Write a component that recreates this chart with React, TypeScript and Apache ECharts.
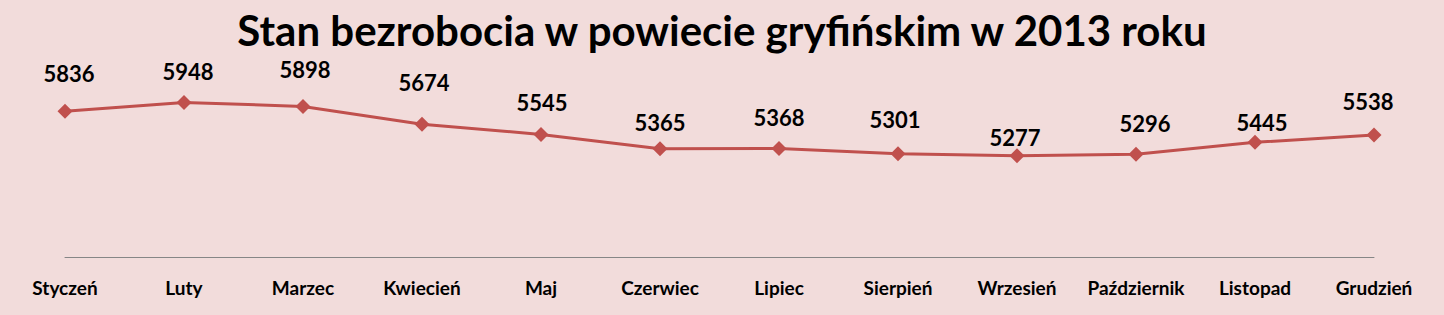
import React, { useEffect, useRef } from "react";
import * as echarts from "echarts";

// Monthly unemployment in the Gryfino district, 2013
const months = [
  "Styczeń",
  "Luty",
  "Marzec",
  "Kwiecień",
  "Maj",
  "Czerwiec",
  "Lipiec",
  "Sierpień",
  "Wrzesień",
  "Październik",
  "Listopad",
  "Grudzień",
];
const unemployed = [5836, 5948, 5898, 5674, 5545, 5365, 5368, 5301, 5277, 5296, 5445, 5538];

// Hand-placed value labels: horizontal shift and height above the marker (px)
const labelDx = [4, 4, 2, 2, 1, 0, 0, -3, -2, 9, 7, -6];
const labelRise = [38, 31, 37, 42, 32, 26, 31, 34, 18, 31, 20, 33];

const FONT = "Lato, 'Open Sans', sans-serif";
const RED = "#c0504d";

export default function App() {
  const ref = useRef<HTMLDivElement>(null);

  useEffect(() => {
    document.body.style.margin = "0";
    if (!ref.current) return;
    const chart = echarts.init(ref.current, null, { renderer: "svg" });

    const seriesData = unemployed.map((v, i) => ({
      value: v,
      label: { offset: [labelDx[i], -labelRise[i]] },
    }));

    chart.setOption({
      animation: false,
      backgroundColor: "#f2dcdb",
      title: {
        text: "Stan bezrobocia w powiecie gryfińskim w 2013 roku",
        left: "center",
        top: 8,
        padding: 0,
        textStyle: {
          fontFamily: FONT,
          fontWeight: "bold",
          fontSize: 42,
          lineHeight: 44,
          color: "#000",
        },
      },
      grid: { left: 65, right: 70, top: 19, bottom: 58 },
      xAxis: {
        type: "category",
        data: months,
        boundaryGap: false,
        axisLine: { lineStyle: { color: "#868686", width: 1 } },
        axisTick: { show: false },
        axisLabel: {
          interval: 0,
          margin: 21,
          fontFamily: FONT,
          fontWeight: "bold",
          fontSize: 19,
          color: "#000",
        },
        splitLine: { show: false },
      },
      yAxis: {
        type: "value",
        min: 4000,
        max: 7000,
        show: false,
        splitLine: { show: false },
      },
      series: [
        {
          type: "line",
          data: seriesData,
          symbol: "diamond",
          symbolSize: 15,
          lineStyle: { color: RED, width: 3 },
          itemStyle: { color: RED },
          label: {
            show: true,
            position: "inside",
            fontFamily: FONT,
            fontWeight: "bold",
            fontSize: 22,
            lineHeight: 22,
            color: "#000",
          },
        },
      ],
    });

    return () => chart.dispose();
  }, []);

  return (
    <div
      ref={ref}
      style={{ position: "absolute", left: 0, top: 0, width: 1444, height: 315 }}
    />
  );
}
